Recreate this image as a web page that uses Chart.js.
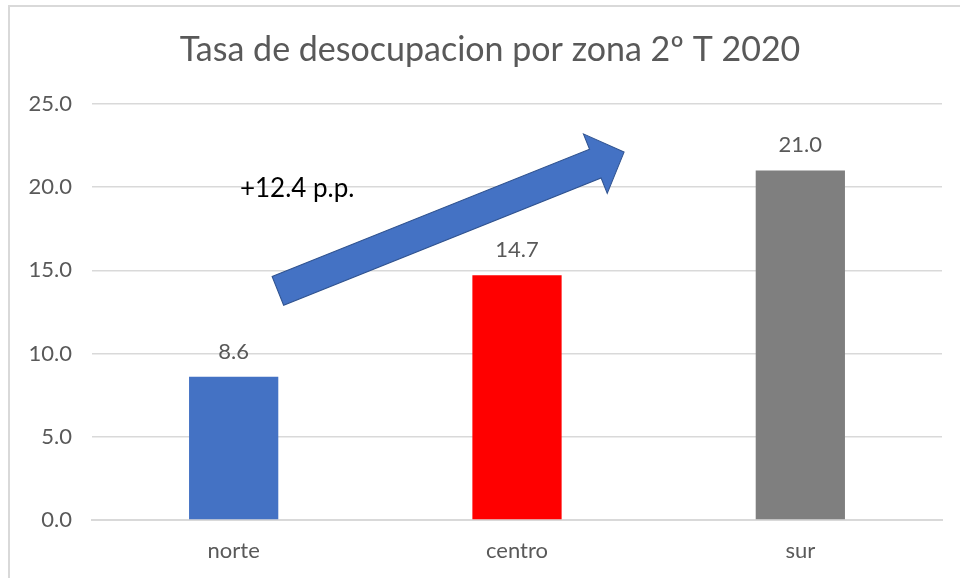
<!DOCTYPE html>
<html>
<head>
<meta charset="utf-8">
<script src="https://cdn.jsdelivr.net/npm/chart.js@4"></script>
<style>
  html, body { margin: 0; padding: 0; background: #fff; }
  #marco { position: absolute; left: 8px; top: 5px; width: 960px; height: 580px;
           border-top: 2px solid #d9d9d9; border-left: 2px solid #d9d9d9; }
  #grafico { position: absolute; left: 0; top: 0; }
</style>
</head>
<body>
<div id="marco"></div>
<canvas id="grafico" width="960" height="578"></canvas>
<script>
// datos del grafico
const zonas = ['norte', 'centro', 'sur'];
const tasas = [8.6, 14.7, 21.0];
const colores = ['#4472C4', '#FF0000', '#7F7F7F'];
const titulo = 'Tasa de desocupacion por zona 2º T 2020';

// flecha y texto de la diferencia (en coordenadas de datos)
const flechaDesde = [0.156, 13.76];
const flechaHasta = [1.378, 22.1];
const textoDif = '+12.4 p.p.';
const textoPos = [0.022, 19.9];

const fuente = 'Lato, "Open Sans", sans-serif';

// etiquetas de valor encima de cada barra
const etiquetas = {
  id: 'etiquetas',
  afterDatasetsDraw(chart) {
    const ctx = chart.ctx;
    const meta = chart.getDatasetMeta(0);
    ctx.save();
    ctx.font = '22px ' + fuente;
    ctx.fillStyle = '#595959';
    ctx.textAlign = 'center';
    ctx.textBaseline = 'middle';
    meta.data.forEach((bar, i) => {
      ctx.fillText(tasas[i].toFixed(1), bar.x, bar.y - 25);
    });
    ctx.restore();
  }
};

// flecha azul con el texto
const flecha = {
  id: 'flecha',
  afterDatasetsDraw(chart) {
    const ctx = chart.ctx;
    const xs = chart.scales.x, ys = chart.scales.y;
    const x1 = xs.getPixelForValue(flechaDesde[0]), y1 = ys.getPixelForValue(flechaDesde[1]);
    const x2 = xs.getPixelForValue(flechaHasta[0]), y2 = ys.getPixelForValue(flechaHasta[1]);
    const ang = Math.atan2(y2 - y1, x2 - x1);
    const largo = Math.hypot(x2 - x1, y2 - y1);
    const ancho = 31, anchoPunta = 64, largoPunta = 31;
    ctx.save();
    ctx.translate(x1, y1);
    ctx.rotate(ang);
    ctx.beginPath();
    ctx.moveTo(0, -ancho / 2);
    ctx.lineTo(largo - largoPunta, -ancho / 2);
    ctx.lineTo(largo - largoPunta, -anchoPunta / 2);
    ctx.lineTo(largo, 0);
    ctx.lineTo(largo - largoPunta, anchoPunta / 2);
    ctx.lineTo(largo - largoPunta, ancho / 2);
    ctx.lineTo(0, ancho / 2);
    ctx.closePath();
    ctx.fillStyle = '#4472C4';
    ctx.fill();
    ctx.strokeStyle = '#2F528F';
    ctx.lineWidth = 1;
    ctx.stroke();
    ctx.restore();

    ctx.save();
    ctx.font = '26px ' + fuente;
    ctx.fillStyle = '#000';
    ctx.textAlign = 'left';
    ctx.textBaseline = 'middle';
    ctx.fillText(textoDif, xs.getPixelForValue(textoPos[0]), ys.getPixelForValue(textoPos[1]));
    ctx.restore();
  }
};

new Chart(document.getElementById('grafico'), {
  type: 'bar',
  data: {
    labels: zonas,
    datasets: [{
      data: tasas,
      backgroundColor: colores,
      barPercentage: 0.315,
      categoryPercentage: 1
    }]
  },
  options: {
    responsive: false,
    animation: false,
    layout: { padding: { left: 20, right: 0, top: 0, bottom: 0 } },
    plugins: {
      legend: { display: false },
      tooltip: { enabled: false },
      title: {
        display: true,
        text: titulo,
        color: '#595959',
        font: { family: fuente, size: 34, weight: 'normal' },
        padding: { top: 30, bottom: 33 }
      }
    },
    scales: {
      x: {
        grid: { display: false, drawTicks: false },
        border: { color: '#d9d9d9', width: 2 },
        ticks: { color: '#595959', font: { family: fuente, size: 22 }, padding: 18 },
        afterFit(s) { s.height = 58; }
      },
      y: {
        min: 0, max: 25,
        grid: { color: '#d9d9d9', lineWidth: 1.5, drawTicks: false },
        border: { display: false },
        ticks: {
          stepSize: 5,
          color: '#595959',
          font: { family: fuente, size: 22 },
          padding: 20,
          callback: v => v.toFixed(1)
        },
        afterFit(s) { s.width = 72; }
      },
      // eje vacio a la derecha, solo deja el margen
      margen: {
        position: 'right',
        grid: { display: false, drawTicks: false },
        border: { display: false },
        ticks: { display: false },
        afterFit(s) { s.width = 18; }
      }
    }
  },
  plugins: [etiquetas, flecha]
});
</script>
</body>
</html>
